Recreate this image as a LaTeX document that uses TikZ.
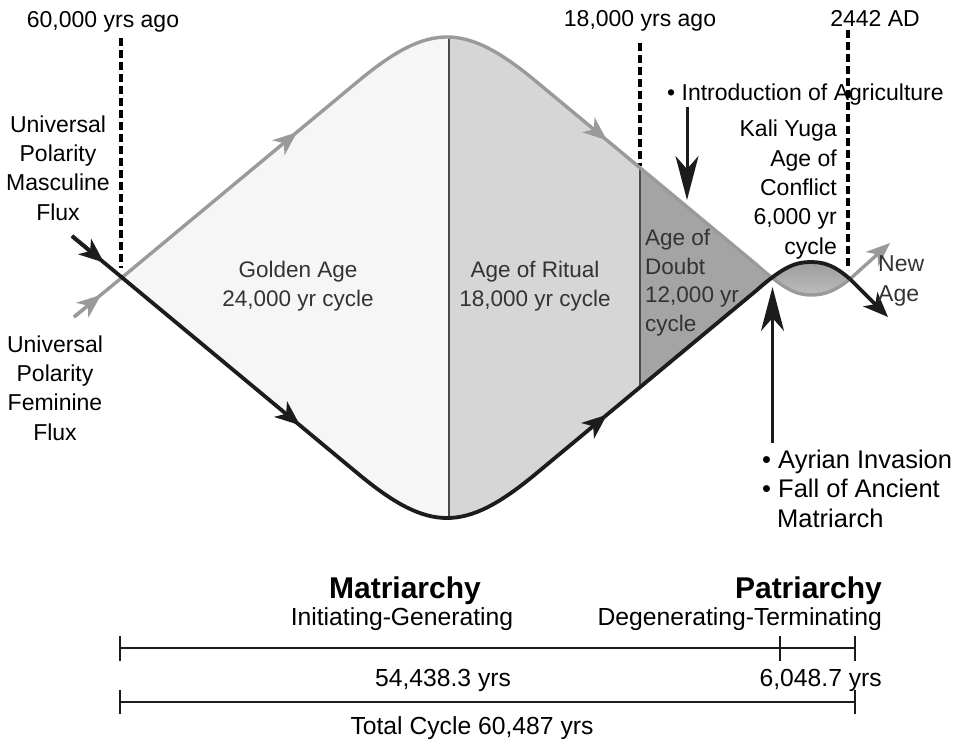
\documentclass[tikz,border=0pt]{standalone}
\usepackage{fontspec}
\setmainfont{Liberation Sans}
\usetikzlibrary{arrows.meta}
\definecolor{blk}{HTML}{1C1C1C}
\definecolor{gln}{HTML}{9A9A9A}
\definecolor{goldenc}{HTML}{F6F6F6}
\definecolor{ritualc}{HTML}{D6D6D6}
\definecolor{doubtc}{HTML}{A4A4A4}
\definecolor{lensT}{HTML}{868686}
\definecolor{lensB}{HTML}{BDBDBD}
\definecolor{divc}{HTML}{4A4A4A}
\definecolor{intext}{HTML}{333333}
\begin{document}
\begin{tikzpicture}[x=1pt,y=-1pt,
  blackline/.style={draw=blk,line width=3.8pt},
  grayline/.style={draw=gln,line width=3.4pt},
  blackhead/.style={blackline,-{Stealth[length=25pt,width=20pt,inset=7pt]}},
  grayhead/.style={grayline,-{Stealth[length=24pt,width=19pt,inset=7pt]}},
  pointer/.style={draw=blk,line width=3pt,-{Stealth[length=44pt,width=23pt,inset=13pt]}},
  divider/.style={draw=divc,line width=2.6pt},
  dashline/.style={draw=black,line width=3.2pt,dash pattern=on 8pt off 4pt},
  tl/.style={draw=blk,line width=2.8pt},
  lbl/.style={font=\fontsize{23}{29.3}\selectfont,inner sep=0pt,text=black},
  inlbl/.style={font=\fontsize{22.5}{28.5}\selectfont,inner sep=0pt,text=intext},
  biglbl/.style={font=\fontsize{25.5}{29.5}\selectfont,inner sep=0pt,text=black},
  boldlbl/.style={font=\fontsize{30}{34}\selectfont\bfseries,inner sep=0pt,text=black},
  botlbl/.style={font=\fontsize{24.7}{30}\selectfont,inner sep=0pt,text=black}
]
\useasboundingbox (0,0) rectangle (957,739);
\fill[white] (0,0) rectangle (957,739);

% key coordinates
\coordinate (X1) at (122,277.5);
\coordinate (X2) at (772,277.5);
\coordinate (X3) at (850,279);
\coordinate (Bst) at (72,236);
\coordinate (Gst) at (74,317);
\coordinate (TL) at (358.1,81.25);
\coordinate (TR) at (535.9,81.25);
\coordinate (BL) at (358.1,473.75);
\coordinate (BR) at (535.9,473.75);
\coordinate (Bend) at (888,317);
\coordinate (Gend) at (890,243);

% diamond fills
\def\diamondpath{(X1) -- (TL) .. controls (429.2,22.25) and (464.8,22.25) .. (TR) -- (X2) -- (BR) .. controls (464.8,532.75) and (429.2,532.75) .. (BL) -- cycle}
\begin{scope}
  \clip (0,0) rectangle (449,739);
  \fill[goldenc] \diamondpath;
\end{scope}
\begin{scope}
  \clip (449,0) rectangle (640,739);
  \fill[ritualc] \diamondpath;
\end{scope}
\begin{scope}
  \clip (640,0) rectangle (800,739);
  \fill[doubtc] \diamondpath;
\end{scope}
% lens (Kali Yuga)
\begin{scope}
  \clip (756,290.8) .. controls (784,266) and (796,262) .. (811,262) .. controls (826,262) and (836,267) .. (X3) -- (850,400) -- (756,400) -- cycle;
  \shade[top color=lensT,bottom color=lensB] (756,264.2) .. controls (784,289) and (796,295) .. (811,295) .. controls (826,295) and (836,290) .. (X3) -- (850,240) -- (756,240) -- cycle;
\end{scope}

% dividers
\coordinate (D1t) at (449,37);
\coordinate (D1b) at (449,518);
\coordinate (D2t) at (640,168);
\coordinate (D2b) at (640,387);
\draw[divider] (D1t) -- (D1b);
\draw[divider] (D2t) -- (D2b);

% dashed time markers
\coordinate (dA1) at (121,38);  \coordinate (dA2) at (121,268);
\coordinate (dB1) at (640,43);  \coordinate (dB2) at (640,166);
\coordinate (dC1) at (848,30);  \coordinate (dC2) at (848,270);
\draw[dashline] (dA1) -- (dA2);
\draw[dashline] (dB1) -- (dB2);
\draw[dashline] (dC1) -- (dC2);

% gray (masculine) flux
\draw[grayline] (Gst) -- (X1) -- (TL) .. controls (429.2,22.25) and (464.8,22.25) .. (TR) -- (756,264.2) .. controls (784,289) and (796,295) .. (811,295) .. controls (826,295) and (836,290) .. (X3);
\draw[grayhead] (X3) -- (Gend);
\draw[grayhead] (Gst) -- (101,294.9);
\draw[grayhead] (287,140.55) -- (297,132.25);
\draw[grayhead] (597,132) -- (607,140.3);

% black (feminine) flux
\draw[blackline] (Bst) -- (X1) -- (BL) .. controls (429.2,532.75) and (464.8,532.75) .. (BR) -- (756,290.8) .. controls (784,266) and (796,262) .. (811,262) .. controls (826,262) and (836,267) .. (X3);
\draw[blackhead] (X3) -- (Bend);
\draw[blackhead] (Bst) -- (104,262.6);
\draw[blackhead] (290,416.9) -- (300,425.2);
\draw[blackhead] (597,423) -- (607,414.7);

% pointers
\coordinate (agriTop) at (687,107);
\coordinate (agriTip) at (687,200);
\draw[pointer] (agriTop) -- (agriTip);
\coordinate (ayrBot) at (772.5,443);
\coordinate (ayrTip) at (772.5,287);
\draw[pointer] (ayrBot) -- (ayrTip);

% labels (base anchor of a multi-line node = baseline of its last line)
\node[lbl,anchor=base] (t60) at (103,27) {60,000 yrs ago};
\node[lbl,anchor=base] (t18) at (640,26) {18,000 yrs ago};
\node[lbl,anchor=base] (tAD) at (875,26) {2442 AD};
\node[lbl,align=center,anchor=base] (masc) at (58,220) {Universal\\Polarity\\Masculine\\Flux};
\node[lbl,align=center,anchor=base] (fem) at (55,440) {Universal\\Polarity\\Feminine\\Flux};
\node[inlbl,align=center,anchor=base] (golden) at (298,306) {Golden Age\\24,000 yr cycle};
\node[inlbl,align=center,anchor=base] (ritual) at (535,306) {Age of Ritual\\18,000 yr cycle};
\node[inlbl,align=left,anchor=base west] (doubt) at (645,331) {Age of\\Doubt\\12,000 yr\\cycle};
\node[lbl,align=right,anchor=base east] (kali) at (837,254) {Kali Yuga\\Age of\\Conflict\\6,000 yr\\cycle};
\node[lbl,align=left,anchor=base west,text=intext] (newage) at (878,301) {New\\Age};
\node[lbl,anchor=base west] (agri) at (667,100) {• Introduction of Agriculture};
\node[biglbl,align=left,anchor=base west] (ayr) at (762,527) {• Ayrian Invasion\\• Fall of Ancient\\\hspace*{15pt}Matriarch};

% bottom timeline
\node[boldlbl,anchor=base] (matr) at (405,598) {Matriarchy};
\node[botlbl,anchor=base] (initg) at (402,625) {Initiating-Generating};
\node[boldlbl,anchor=base east] (patr) at (882,598) {Patriarchy};
\node[botlbl,anchor=base east] (degen) at (882,625) {Degenerating-Terminating};
\coordinate (L1a) at (120,648);
\coordinate (L1m) at (780,648);
\coordinate (L1b) at (855,648);
\draw[tl] (L1a) -- (L1b);
\draw[tl] (L1a) ++(0,-12) -- ++(0,25);
\draw[tl] (L1m) ++(0,-12) -- ++(0,25);
\draw[tl] (L1b) ++(0,-12) -- ++(0,25);
\node[botlbl,anchor=base] (y54) at (443,686) {54,438.3 yrs};
\node[botlbl,anchor=base east] (y6) at (882,686) {6,048.7 yrs};
\coordinate (L2a) at (120,702);
\coordinate (L2b) at (855,702);
\draw[tl,line width=2.5pt] (L2a) -- (L2b);
\draw[tl,line width=2.5pt] (L2a) ++(0,-12) -- ++(0,24);
\draw[tl,line width=2.5pt] (L2b) ++(0,-12) -- ++(0,24);
\node[botlbl,anchor=base] (tot) at (472,734) {Total Cycle 60,487 yrs};
\end{tikzpicture}
\end{document}
